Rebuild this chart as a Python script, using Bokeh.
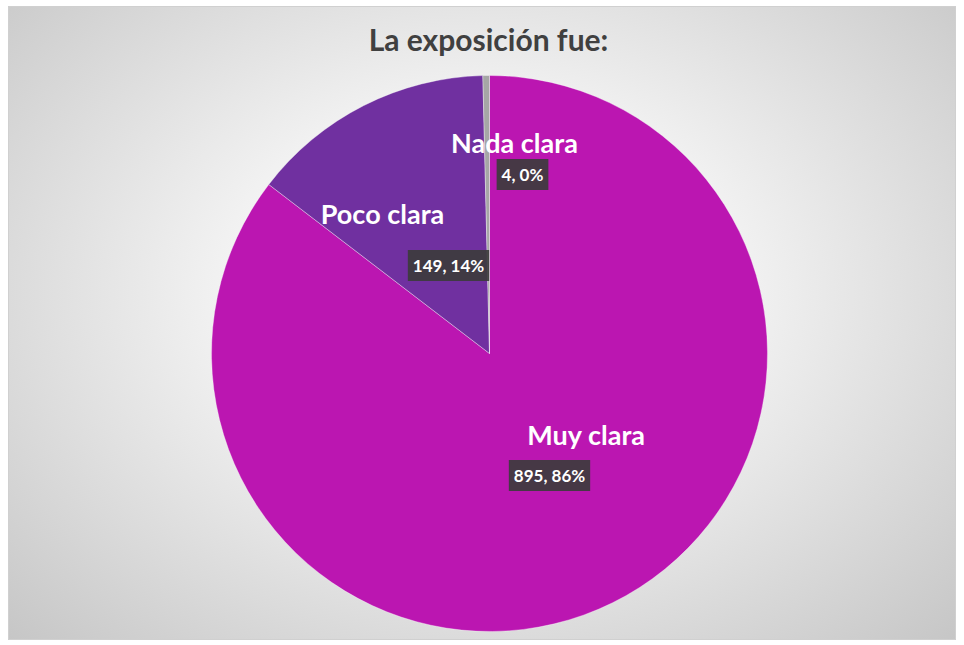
import numpy as np
from bokeh.plotting import figure
from bokeh.models import Label, ColumnDataSource
from bokeh.embed import file_html
from bokeh.resources import INLINE

# Data
categories = ["Muy clara", "Poco clara", "Nada clara"]
counts = [895, 149, 4]
percents = [86, 14, 0]
colors = ["#BB16B1", "#7030A0", "#A6A6A6"]
title_text = "La exposición fue:"

W, H = 948, 634
p = figure(width=W, height=H, x_range=(0, W), y_range=(0, H),
           output_backend="svg", toolbar_location=None,
           min_border=0, match_aspect=False)
p.margin = (6, 0, 0, 8)
p.axis.visible = False
p.grid.visible = False
p.background_fill_alpha = 0
p.border_fill_alpha = 0
p.outline_line_color = "#d0d0d0"
p.styles = {"background-image": "radial-gradient(ellipse farthest-corner at 50% 45%, #ffffff 0%, #f8f8f8 30%, #c6c6c6 100%)"}

# pie centre / radius in plot pixels
cx, cy, R = 481, H - 347, 278
vals = np.array(counts, dtype=float)
frac = vals / vals.sum()
cum = np.concatenate([[0], np.cumsum(frac)])
start = np.pi / 2 - 2 * np.pi * cum[:-1]
end = np.pi / 2 - 2 * np.pi * cum[1:]
src = ColumnDataSource(dict(cat=categories, start=start, end=end, color=colors,
                            x=[cx] * 3, y=[cy] * 3))
p.wedge(x="x", y="y", radius=R, start_angle="start", end_angle="end",
        direction="clock", fill_color="color", line_color="white",
        line_width=0.5, line_alpha=0.7, source=src)

# title
p.add_layout(Label(x=W / 2 + 6, y=H - 32, x_units="screen", y_units="screen",
                   text=title_text, text_align="center", text_baseline="middle",
                   text_font="Lato", text_font_style="bold", text_font_size="30px",
                   text_color="#404040"))

# label placement offsets (pixel offsets from centre)
name_off = [(97, -81), (-107, 140), (25, 211)]
box_off = [(60, -122), (-41, 88), (33, 179)]
for cat, n, pc, (nx, ny), (bx, by) in zip(categories, counts, percents, name_off, box_off):
    p.add_layout(Label(x=cx + nx, y=cy + ny, text=cat, text_align="center",
                       text_baseline="middle", text_font="Lato",
                       text_font_style="bold", text_font_size="27px",
                       text_color="white"))
    p.add_layout(Label(x=cx + bx, y=cy + by, text=f"{n}, {pc}%",
                       text_align="center", text_baseline="middle",
                       text_font="Lato", text_font_style="bold",
                       text_font_size="17px", text_color="white",
                       background_fill_color="#3c3c3c", background_fill_alpha=0.92,
                       padding=5))

open("out.html", "w").write(file_html(p, INLINE))
